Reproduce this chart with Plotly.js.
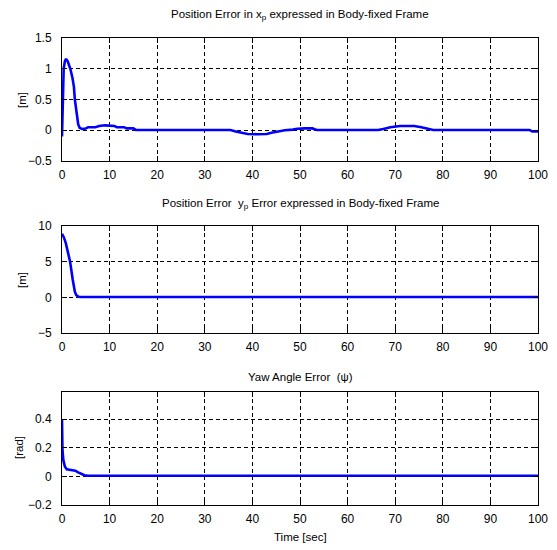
<!DOCTYPE html>
<html>
<head>
<meta charset="utf-8">
<script src="https://cdn.plot.ly/plotly-3.0.1.min.js"></script>
<style>html,body{margin:0;padding:0;background:#fff;}#chart{width:557px;height:550px;}</style>
</head>
<body>
<div id="chart"></div>
<script>
// Position error x_p [m]
const tX = [0, 0.1, 0.2, 0.35, 0.6, 0.85, 1.2, 1.75, 2.2, 2.5, 2.7, 3.1, 3.4, 3.7, 4.2, 5.0, 5.5, 7.0, 7.8, 9.0, 11.0, 11.5, 13.0, 13.6, 15.0, 15.5, 20, 30, 35.4, 36.5, 37.5, 39.0, 41.0, 43.0, 44.0, 45.5, 46.8, 48.5, 49.5, 51.0, 52.6, 53.5, 60, 66.4, 67.5, 69.0, 71.0, 72.5, 74.0, 75.5, 77.0, 78.0, 85, 90, 98.2, 98.8, 100];
const vX = [-0.1, 0.3, 0.75, 1.0, 1.12, 1.16, 1.12, 1.0, 0.85, 0.71, 0.5, 0.23, 0.1, 0.04, 0.02, 0.03, 0.05, 0.05, 0.07, 0.08, 0.07, 0.05, 0.05, 0.03, 0.03, 0.005, 0.005, 0.005, 0.005, -0.02, -0.04, -0.06, -0.065, -0.06, -0.04, -0.02, 0.0, 0.01, 0.025, 0.03, 0.03, 0.005, 0.005, 0.005, 0.02, 0.05, 0.07, 0.075, 0.07, 0.05, 0.02, 0.005, 0.005, 0.005, 0.005, -0.02, -0.02];

// Position error y_p [m]
const tY = [0, 0.4, 0.8, 1.2, 1.7, 2.25, 2.7, 3.0, 3.5, 4.0, 10, 50, 100];
const vY = [8.9, 8.4, 7.6, 6.5, 5.0, 2.5, 0.8, 0.3, 0.08, 0.05, 0.05, 0.05, 0.05];

// Yaw angle error [rad]
const tPsi = [0, 0.02, 0.1, 0.3, 0.6, 1.0, 2.0, 2.8, 3.3, 4.0, 4.7, 5.5, 20, 100];
const vPsi = [0.4, 0.26, 0.18, 0.11, 0.07, 0.05, 0.045, 0.04, 0.03, 0.02, 0.008, 0.005, 0.005, 0.005];

const xTicks = [0, 10, 20, 30, 40, 50, 60, 70, 80, 90, 100];
const titles = [
  'Position Error in x<sub>p</sub> expressed in Body-fixed Frame',
  'Position Error  y<sub>p</sub> Error expressed in Body-fixed Frame',
  'Yaw Angle Error  (ψ)'
];
const yLabels = ['[m]', '[m]', '[rad]'];
const xLabel = 'Time [sec]';
const yTicks1 = [-0.5, 0, 0.5, 1, 1.5];
const yTicks2 = [-5, 0, 5, 10];
const yTicks3 = [-0.2, 0, 0.2, 0.4];

const W = 557, H = 550;
const mL = 62, mR = 19, mT = 38, mB = 45;
const pH = H - mT - mB;
const pW = W - mL - mR;
const py = p => (H - mB - p) / pH;   // pixel y -> paper y
const px = p => (p - mL) / pW;       // pixel x -> paper x

const lineStyle = {color: '#0000ff', width: 2.6};
const traces = [
  {x: tX, y: vX, xaxis: 'x', yaxis: 'y', mode: 'lines', line: lineStyle},
  {x: tY, y: vY, xaxis: 'x2', yaxis: 'y2', mode: 'lines', line: lineStyle},
  {x: tPsi, y: vPsi, xaxis: 'x3', yaxis: 'y3', mode: 'lines', line: lineStyle}
];

const font = {family: 'Liberation Sans, Arial, sans-serif', size: 12, color: '#000'};
const gridDash = '4px,3px';
function xa(anchor) {
  return {
    anchor: anchor, domain: [0, 1], range: [0, 100], tickvals: xTicks,
    showline: true, linecolor: '#000', linewidth: 1, mirror: 'ticks',
    ticks: 'inside', ticklen: 5, tickcolor: '#000', ticklabelstandoff: 3,
    showgrid: true, gridcolor: '#000', gridwidth: 1, griddash: gridDash,
    zeroline: false, tickfont: font, fixedrange: true
  };
}
function ya(anchor, dom, rng, tv) {
  return {
    anchor: anchor, domain: dom, range: rng, tickvals: tv,
    showline: true, linecolor: '#000', linewidth: 1, mirror: 'ticks',
    ticks: 'inside', ticklen: 5, tickcolor: '#000', ticklabelstandoff: 7,
    showgrid: true, gridcolor: '#000', gridwidth: 1, griddash: gridDash,
    zeroline: false, tickfont: font, fixedrange: true
  };
}

const annFont = {family: 'Liberation Sans, Arial, sans-serif', size: 11.5, color: '#000'};
const annotations = [
  {text: titles[0], x: 0.5, y: py(15), xref: 'paper', yref: 'paper', showarrow: false, font: annFont, xanchor: 'center', yanchor: 'middle'},
  {text: titles[1], x: 0.5, y: py(204), xref: 'paper', yref: 'paper', showarrow: false, font: annFont, xanchor: 'center', yanchor: 'middle'},
  {text: titles[2], x: 0.5, y: py(377), xref: 'paper', yref: 'paper', showarrow: false, font: annFont, xanchor: 'center', yanchor: 'middle'},
  {text: yLabels[0], x: px(22), y: py(100), xref: 'paper', yref: 'paper', showarrow: false, font: annFont, textangle: -90, xanchor: 'center', yanchor: 'middle'},
  {text: yLabels[1], x: px(22), y: py(280), xref: 'paper', yref: 'paper', showarrow: false, font: annFont, textangle: -90, xanchor: 'center', yanchor: 'middle'},
  {text: yLabels[2], x: px(19), y: py(448), xref: 'paper', yref: 'paper', showarrow: false, font: annFont, textangle: -90, xanchor: 'center', yanchor: 'middle'},
  {text: xLabel, x: 0.5, y: py(537), xref: 'paper', yref: 'paper', showarrow: false, font: annFont, xanchor: 'center', yanchor: 'middle'}
];

const layout = {
  width: W, height: H,
  margin: {l: mL, r: mR, t: mT, b: mB, pad: 0},
  paper_bgcolor: '#fff', plot_bgcolor: '#fff',
  showlegend: false,
  font: font,
  xaxis: xa('y'), xaxis2: xa('y2'), xaxis3: xa('y3'),
  yaxis: ya('x', [py(161), 1], [-0.5, 1.5], yTicks1),
  yaxis2: ya('x2', [py(333), py(226)], [-5, 10], yTicks2),
  yaxis3: ya('x3', [0, py(392)], [-0.2, 0.59], yTicks3),
  annotations: annotations
};

Plotly.newPlot('chart', traces, layout, {displayModeBar: false, staticPlot: true});
</script>
</body>
</html>
